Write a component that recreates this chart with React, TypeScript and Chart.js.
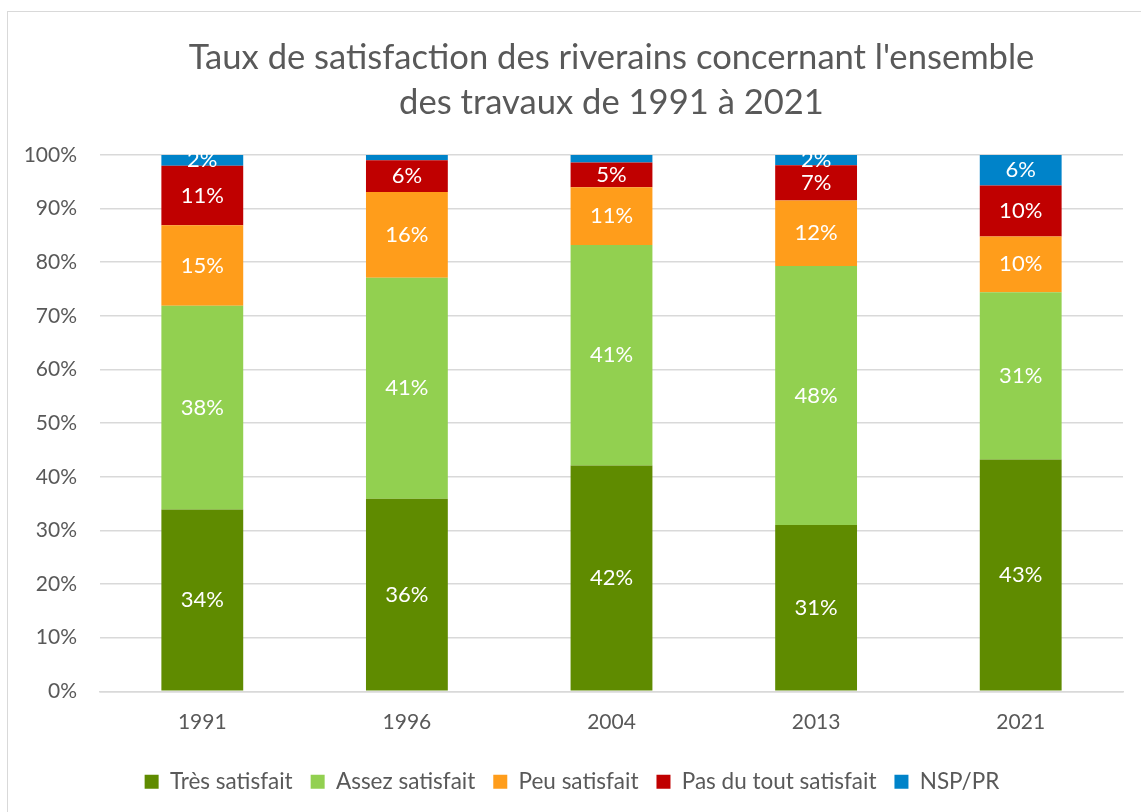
import React, { useEffect, useRef } from "react";
import { Chart, registerables } from "chart.js";

Chart.register(...registerables);

const years = ["1991", "1996", "2004", "2013", "2021"];
const tresSatisfait = [33.9, 35.9, 42.1, 31.0, 43.2];
const assezSatisfait = [38.0, 41.2, 41.1, 48.3, 31.2];
const peuSatisfait = [15.0, 16.0, 10.8, 12.2, 10.4];
const pasDuToutSatisfait = [11.1, 5.9, 4.6, 6.6, 9.5];
const nspPr = [2.0, 1.0, 1.4, 1.9, 5.7];

const seriesNames = ["Très satisfait", "Assez satisfait", "Peu satisfait", "Pas du tout satisfait", "NSP/PR"];
const seriesColors = ["#5f8b00", "#92d050", "#ff9d1b", "#c00000", "#0083c9"];
const titleLines = ["Taux de satisfaction des riverains concernant l'ensemble", "des travaux de 1991 à 2021"];
const yStep = 10;

const FONT = "Lato, 'Open Sans', sans-serif";
const TEXT = "#595959";

const labelPlugin = {
  id: "segmentLabels",
  afterDatasetsDraw(chart: any) {
    const ctx = chart.ctx;
    ctx.save();
    ctx.fillStyle = "#ffffff";
    ctx.font = `22px ${FONT}`;
    ctx.textAlign = "center";
    ctx.textBaseline = "middle";
    chart.data.datasets.forEach((ds: any, i: number) => {
      const meta = chart.getDatasetMeta(i);
      meta.data.forEach((el: any, j: number) => {
        const v = ds.data[j];
        if (v < 1.5) return;
        const p = el.getProps(["x", "y", "base"], true);
        ctx.fillText(Math.round(v) + "%", p.x, (p.y + p.base) / 2);
      });
    });
    ctx.restore();
  },
};

export default function App() {
  const ref = useRef<HTMLCanvasElement>(null);
  useEffect(() => {
    if (!ref.current) return;
    const allSeries = [tresSatisfait, assezSatisfait, peuSatisfait, pasDuToutSatisfait, nspPr];
    const chart = new Chart(ref.current, {
      type: "bar",
      data: {
        labels: years,
        datasets: allSeries.map((d, i) => ({
          label: seriesNames[i],
          data: d,
          backgroundColor: seriesColors[i],
          borderWidth: 0,
          barPercentage: 1,
          categoryPercentage: 0.4,
        })),
      },
      options: {
        responsive: false,
        animation: false,
        layout: { padding: { left: 21, right: 18, top: 0, bottom: 0 } },
        plugins: {
          title: {
            display: true,
            fullSize: false,
            text: titleLines,
            color: TEXT,
            font: { family: FONT, size: 34.6, weight: "normal", lineHeight: 1.3 },
            padding: { top: 35, bottom: 30 },
          },
          legend: {
            position: "bottom",
            labels: {
              color: TEXT,
              font: { family: FONT, size: 22.5 },
              boxWidth: 14,
              boxHeight: 14,
              padding: 18,
            },
          },
          tooltip: { enabled: false },
        },
        scales: {
          x: {
            stacked: true,
            grid: { display: false, drawTicks: false },
            border: { display: true, color: "#d9d9d9", width: 1.5 },
            ticks: { color: TEXT, font: { family: FONT, size: 21 }, padding: 18 },
          },
          y: {
            stacked: true,
            min: 0,
            max: 100,
            afterFit: (scale: any) => {
              scale.width = 79;
            },
            grid: { color: "#d9d9d9", lineWidth: 1.5, drawTicks: false },
            border: { display: false },
            ticks: {
              stepSize: yStep,
              color: TEXT,
              font: { family: FONT, size: 21 },
              padding: 23,
              callback: (v: any) => v + "%",
            },
          },
        },
      },
      plugins: [labelPlugin],
    });
    return () => chart.destroy();
  }, []);

  return (
    <div style={{ position: "absolute", left: 0, top: 0, width: 1141, height: 812, background: "#fff", overflow: "hidden" }}>
      <div
        style={{
          position: "absolute",
          left: 7,
          top: 11,
          width: 1200,
          height: 900,
          borderLeft: "1px solid #d9d9d9",
          borderTop: "1px solid #d9d9d9",
        }}
      />
      <canvas ref={ref} width={1141} height={803} style={{ position: "absolute", left: 0, top: 0 }} />
    </div>
  );
}
